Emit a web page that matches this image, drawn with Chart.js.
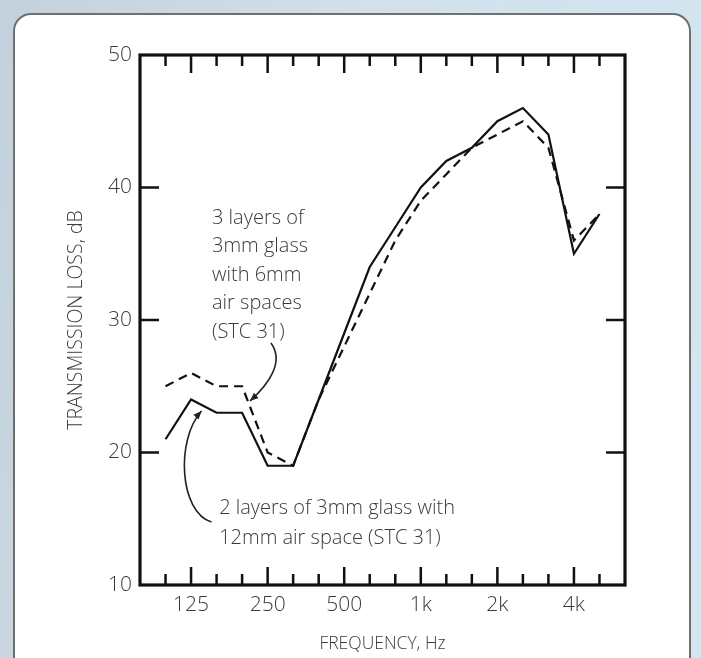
<!DOCTYPE html>
<html>
<head>
<meta charset="utf-8">
<script src="https://cdn.jsdelivr.net/npm/chart.js@4"></script>
<style>
  html, body { margin: 0; padding: 0; width: 701px; height: 658px; overflow: hidden; }
  body { position: relative; background: linear-gradient(100deg, #c3d1dc 0%, #d3e0e9 45%, #d2e6f1 100%); }
  #panel { position: absolute; left: 13px; top: 13px; width: 674px; height: 700px; background: #fff; border: 2px solid #6f6f6f; border-radius: 18px; }
  #wrap { position: absolute; left: 0; top: 0; width: 701px; height: 658px; }
</style>
</head>
<body>
<div id="panel"></div>
<div id="wrap"><canvas id="chart"></canvas></div>
<script>
// third-octave bands, plotted at index 1..18 (axis runs 0..19)
const bands = ['100', '125', '160', '200', '250', '315', '400', '500', '630', '800',
  '1k', '1.25k', '1.6k', '2k', '2.5k', '3.15k', '4k', '5k'];
const tickLabels = ['125', '250', '500', '1k', '2k', '4k'];
const yTicks = [10, 20, 30, 40, 50];

// 2 layers of 3mm glass, 12mm air space (solid)
const twoLayers = [21, 24, 23, 23, 19, 19, 24, 29, 34, 37, 40, 42, 43, 45, 46, 44, 35, 38];
// 3 layers of 3mm glass, 6mm air spaces (dashed)
const threeLayers = [25, 26, 25, 25, 20, 19, 24, 28, 32, 36, 39, 41, 43, 44, 45, 43, 36, 38];

const font = "'Open Sans', 'DejaVu Sans', sans-serif";
const textColor = '#3a3a3a';

const toPoints = arr => arr.map((v, i) => ({ x: i + 1, y: v }));

// frame, inward ticks, labels and arrows
const decorations = {
  id: 'decorations',
  afterDatasetsDraw(chart) {
    const { ctx, chartArea: a, scales: { x, y } } = chart;
    ctx.save();
    ctx.strokeStyle = '#111';
    ctx.lineWidth = 2.5;
    ctx.beginPath();
    bands.forEach((b, i) => {
      const px = x.getPixelForValue(i + 1);
      const len = tickLabels.includes(b) ? 18 : 11;
      ctx.moveTo(px, a.top); ctx.lineTo(px, a.top + len);
      ctx.moveTo(px, a.bottom); ctx.lineTo(px, a.bottom - len);
    });
    yTicks.slice(1, -1).forEach(v => {
      const py = y.getPixelForValue(v);
      ctx.moveTo(a.left, py); ctx.lineTo(a.left + 19, py);
      ctx.moveTo(a.right, py); ctx.lineTo(a.right - 19, py);
    });
    ctx.stroke();
    ctx.lineWidth = 3.2;
    ctx.strokeRect(a.left, a.top, a.right - a.left, a.bottom - a.top);

    // annotation text
    ctx.fillStyle = textColor;
    ctx.font = '300 20px ' + font;
    ctx.textBaseline = 'middle';
    ctx.textAlign = 'left';
    const note1 = ['3 layers of', '3mm glass', 'with 6mm', 'air spaces', '(STC 31)'];
    let tx = x.getPixelForValue(2.82), ty = y.getPixelForValue(37.7);
    note1.forEach((s, i) => ctx.fillText(s, tx, ty + i * 28.5));
    const note2 = ['2 layers of 3mm glass with', '12mm air space (STC 31)'];
    tx = x.getPixelForValue(3.1); ty = y.getPixelForValue(15.8);
    note2.forEach((s, i) => ctx.fillText(s, tx, ty + i * 30));

    // curved arrows
    const arrow = pts => {
      const p = pts.map(([vx, vy]) => [x.getPixelForValue(vx), y.getPixelForValue(vy)]);
      ctx.lineWidth = 1.6;
      ctx.strokeStyle = '#222';
      ctx.beginPath();
      ctx.moveTo(p[0][0], p[0][1]);
      ctx.bezierCurveTo(p[1][0], p[1][1], p[2][0], p[2][1], p[3][0], p[3][1]);
      ctx.stroke();
      const ang = Math.atan2(p[3][1] - p[2][1], p[3][0] - p[2][0]);
      ctx.fillStyle = '#222';
      ctx.beginPath();
      ctx.moveTo(p[3][0], p[3][1]);
      ctx.lineTo(p[3][0] - 9 * Math.cos(ang - 0.4), p[3][1] - 9 * Math.sin(ang - 0.4));
      ctx.lineTo(p[3][0] - 9 * Math.cos(ang + 0.4), p[3][1] - 9 * Math.sin(ang + 0.4));
      ctx.closePath();
      ctx.fill();
    };
    arrow([[5.13, 28.26], [5.68, 26.83], [5.01, 25.09], [4.31, 23.89]]);
    arrow([[2.80, 14.75], [1.54, 15.51], [1.39, 20.94], [2.41, 23.13]]);
    ctx.restore();
  }
};

new Chart(document.getElementById('chart'), {
  type: 'line',
  data: {
    datasets: [
      {
        label: '2 layers of 3mm glass with 12mm air space (STC 31)',
        data: toPoints(twoLayers),
        borderColor: '#111',
        borderWidth: 2.2,
        pointRadius: 0,
        tension: 0
      },
      {
        label: '3 layers of 3mm glass with 6mm air spaces (STC 31)',
        data: toPoints(threeLayers),
        borderColor: '#111',
        borderWidth: 2.2,
        borderDash: [9, 6],
        pointRadius: 0,
        tension: 0
      }
    ]
  },
  options: {
    responsive: true,
    maintainAspectRatio: false,
    animation: false,
    layout: { padding: { left: 60, top: 55, right: 76, bottom: 3 } },
    plugins: { legend: { display: false }, tooltip: { enabled: false } },
    scales: {
      x: {
        type: 'linear',
        min: 0,
        max: 19,
        afterBuildTicks: axis => { axis.ticks = bands.map((b, i) => ({ value: i + 1 })); },
        afterFit: axis => { axis.height = 70; },
        grid: { display: false, drawTicks: false },
        border: { display: false },
        ticks: {
          autoSkip: false,
          maxRotation: 0,
          padding: 7,
          color: textColor,
          font: { family: font, size: 21, weight: 300 },
          callback: v => {
            const b = bands[v - 1];
            return tickLabels.includes(b) ? b : '';
          }
        },
        title: {
          display: true,
          text: 'FREQUENCY, Hz',
          color: textColor,
          padding: 0,
          font: { family: font, size: 17.5, weight: 300 }
        }
      },
      y: {
        min: 10,
        max: 50,
        afterFit: axis => { axis.width = 80; },
        grid: { display: false, drawTicks: false },
        border: { display: false },
        ticks: {
          stepSize: 10,
          padding: 8,
          color: textColor,
          font: { family: font, size: 21, weight: 300 }
        },
        title: {
          display: true,
          text: 'TRANSMISSION LOSS, dB',
          color: textColor,
          padding: 5,
          font: { family: font, size: 19.5, weight: 300 }
        }
      }
    }
  },
  plugins: [decorations]
});
</script>
</body>
</html>
